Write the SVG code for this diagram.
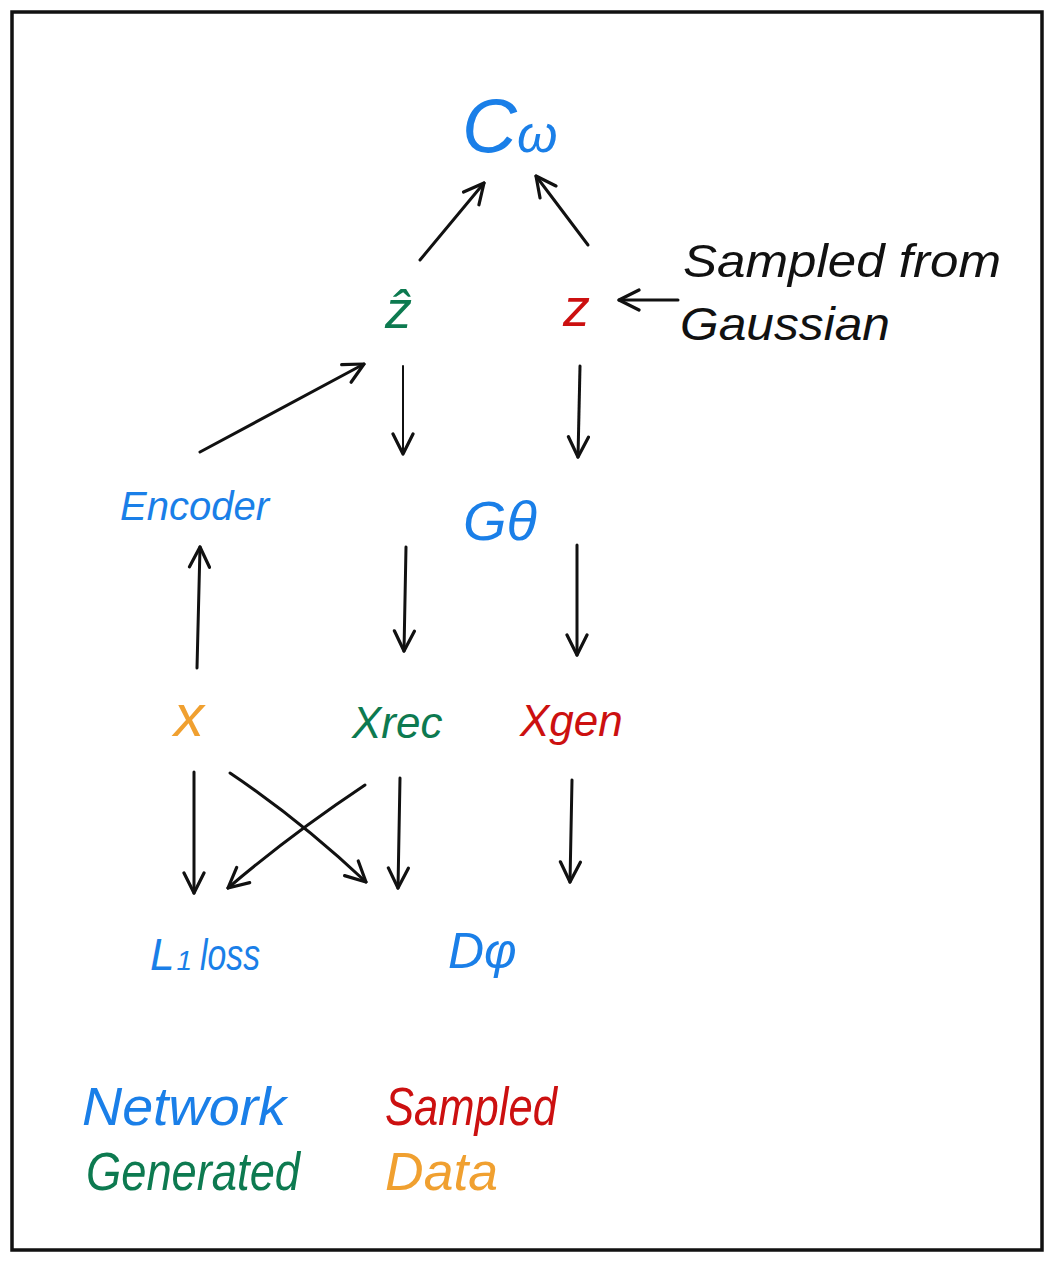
<svg xmlns="http://www.w3.org/2000/svg" width="1054" height="1263" viewBox="0 0 1054 1263">
<style>
text{font-family:"Liberation Sans","DejaVu Sans",sans-serif;font-style:italic;}
.blue{fill:#1a7fe8}
.green{fill:#0d7a50}
.red{fill:#cc1010}
.orange{fill:#f0a030}
.black{fill:#111}
.conn{stroke:#111;stroke-width:3;fill:none;stroke-linecap:round;marker-end:url(#arr)}
.thin{stroke-width:2}
</style>
<defs>
<marker id="arr" viewBox="0 0 12 12" refX="11" refY="6" markerWidth="24" markerHeight="24" markerUnits="userSpaceOnUse" orient="auto">
<path d="M1,1 L11,6 L1,11" fill="none" stroke="#111" stroke-width="1.6" stroke-linecap="round" stroke-linejoin="round"/>
</marker>
</defs>
<rect x="12" y="12" width="1030" height="1238" fill="#fff" stroke="#111" stroke-width="3.5"/>
<g id="connectors">
<path class="conn" d="M420,260 L484,183"/>
<path class="conn" d="M588,245 L536,176"/>
<path class="conn" d="M678,300 L619,300"/>
<path class="conn" d="M200,452 L364,364"/>
<path class="conn thin" d="M403,366 L403,454"/>
<path class="conn" d="M580,366 L578,457"/>
<path class="conn" d="M197,668 L200,547"/>
<path class="conn" d="M406,547 L404,651"/>
<path class="conn" d="M577,545 L577,655"/>
<path class="conn" d="M194,772 L194,893"/>
<path class="conn" d="M230,773 Q300,820 366,882"/>
<path class="conn" d="M365,785 Q290,835 228,888"/>
<path class="conn" d="M400,778 L398,888"/>
<path class="conn" d="M572,780 L570,882"/>
</g>
<g id="node-cw"><text class="blue" x="462" y="152" font-size="76">C<tspan font-size="52">ω</tspan></text></g>
<g id="node-zhat"><text class="green" x="385" y="328" font-size="54">ẑ</text></g>
<g id="node-z"><text class="red" x="563" y="326" font-size="54">z</text></g>
<g id="node-note"><text class="black" x="683" y="277" font-size="46" textLength="318" lengthAdjust="spacingAndGlyphs">Sampled from</text><text class="black" x="680" y="340" font-size="46" textLength="210" lengthAdjust="spacingAndGlyphs">Gaussian</text></g>
<g id="node-encoder"><text class="blue" x="120" y="520" font-size="40">Encoder</text></g>
<g id="node-gtheta"><text class="blue" x="463" y="540" font-size="56">Gθ</text></g>
<g id="node-x"><text class="orange" x="174" y="736" font-size="60">x</text></g>
<g id="node-xrec"><text class="green" x="352" y="738" font-size="44">Xrec</text></g>
<g id="node-xgen"><text class="red" x="520" y="736" font-size="44">Xgen</text></g>
<g id="node-l1"><text class="blue" x="150" y="970" font-size="44">L<tspan font-size="28" dx="2">1</tspan></text><text class="blue" x="200" y="970" font-size="44" textLength="60" lengthAdjust="spacingAndGlyphs">loss</text></g>
<g id="node-dphi"><text class="blue" x="448" y="968" font-size="50">Dφ</text></g>
<g id="legend">
<text class="blue" x="82" y="1125" font-size="54" textLength="204" lengthAdjust="spacingAndGlyphs">Network</text>
<text class="red" x="385" y="1125" font-size="54" textLength="172" lengthAdjust="spacingAndGlyphs">Sampled</text>
<text class="green" x="86" y="1190" font-size="54" textLength="214" lengthAdjust="spacingAndGlyphs">Generated</text>
<text class="orange" x="385" y="1190" font-size="54" textLength="113" lengthAdjust="spacingAndGlyphs">Data</text>
</g>
</svg>
